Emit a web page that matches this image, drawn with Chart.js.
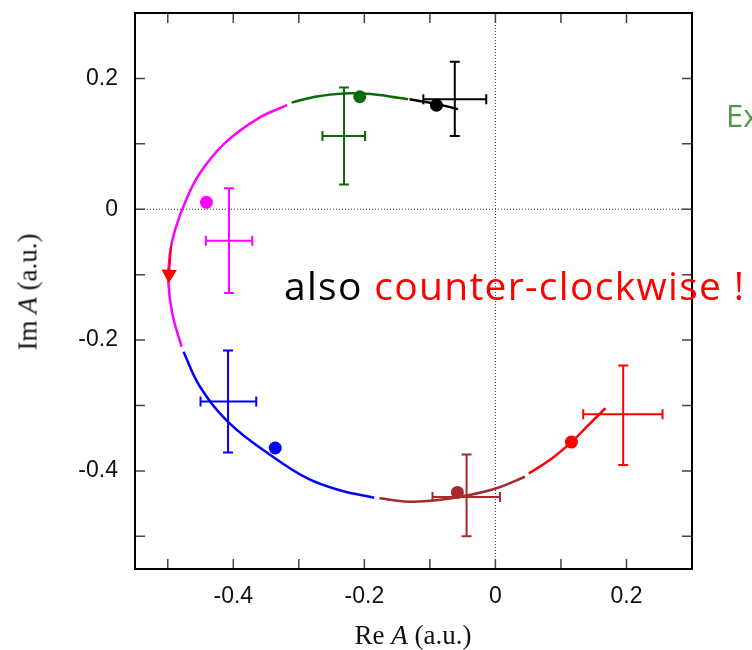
<!DOCTYPE html>
<html>
<head>
<meta charset="utf-8">
<script src="https://cdn.jsdelivr.net/npm/chart.js@4.4.0/dist/chart.umd.min.js"></script>
<style>
    html, body { margin: 0; padding: 0; background: #fff; }
    #wrap { position: relative; width: 752px; height: 650px; overflow: hidden; }
    #chart { position: absolute; left: 0; top: 0; }
    .axt { position: absolute; font-family: 'Liberation Serif', 'DejaVu Serif', serif; font-size: 27px; line-height: 1; white-space: nowrap; color: #111; }
    .note { position: absolute; font-family: 'Open Sans', Lato, sans-serif; line-height: 1; white-space: nowrap; }
</style>
</head>
<body>
<div id="wrap">
    <canvas id="chart" width="752" height="650"></canvas>
    <div class="axt" id="xTitle" style="left:413px; top:635px; transform:translate(-50%,-50%);">Re <i>A</i> (a.u.)</div>
    <div class="axt" id="yTitle" style="left:28px; top:292px; transform:translate(-50%,-50%) rotate(-90deg);">Im <i>A</i> (a.u.)</div>
    <div class="note" style="left:284px; top:265px; font-size:39px; letter-spacing:1.3px;">also <span style="color:#ff0000">counter-clockwise !</span></div>
    <div class="note" style="left:726px; top:100px; font-size:31px; color:#4e9a47;">Ex</div>
</div>
<script>
    // axes
    const axisMin = -0.55, axisMax = 0.3;
    const tickValues = [-0.4, -0.2, 0, 0.2];
    const tickLabels = ['-0.4', '-0.2', '0', '0.2'];
    const tickMarks = [-0.5, -0.4, -0.3, -0.2, -0.1, 0, 0.1, 0.2];

    // fitted curve, one piece per colour
    const redCurveX = [0.168, 0.140, 0.116, 0.085, 0.051];
    const redCurveY = [-0.304, -0.332, -0.356, -0.382, -0.404];
    const brownCurveX = [0.045, 0.000, -0.040, -0.090, -0.133, -0.177];
    const brownCurveY = [-0.409, -0.427, -0.437, -0.445, -0.447, -0.442];
    const blueCurveX = [-0.185, -0.236, -0.286, -0.343, -0.406, -0.451, -0.476];
    const blueCurveY = [-0.441, -0.430, -0.412, -0.376, -0.327, -0.271, -0.218];
    const magentaCurveX = [-0.479, -0.493, -0.499, -0.497, -0.489, -0.473, -0.451, -0.413, -0.362, -0.318];
    const magentaCurveY = [-0.210, -0.160, -0.113, -0.070, -0.032, 0.012, 0.055, 0.101, 0.139, 0.159];
    const greenCurveX = [-0.311, -0.275, -0.232, -0.190, -0.146, -0.133];
    const greenCurveY = [0.163, 0.172, 0.177, 0.176, 0.170, 0.168];
    const blackCurveX = [-0.131, -0.090, -0.057];
    const blackCurveY = [0.168, 0.161, 0.153];

    // fit points
    const dotX = [-0.441, -0.207, -0.090, -0.336, -0.058, 0.116];
    const dotY = [0.0105, 0.172, 0.159, -0.365, -0.433, -0.356];

    // measured points with errors
    const errX = [-0.4065, -0.231, -0.062, -0.408, -0.044, 0.195];
    const errY = [-0.048, 0.112, 0.168, -0.294, -0.440, -0.3135];
    const errXLo = [-0.442, -0.264, -0.110, -0.450, -0.096, 0.134];
    const errXHi = [-0.371, -0.199, -0.014, -0.365, 0.007, 0.255];
    const errYLo = [-0.128, 0.038, 0.112, -0.372, -0.500, -0.391];
    const errYHi = [0.032, 0.186, 0.2255, -0.216, -0.375, -0.239];

    const colors = ['#ff00ff', '#0a6b0a', '#000000', '#0000ff', '#a52a2a', '#ff0000'];

    // direction arrow
    const arrowX = [-0.495, -0.498];
    const arrowY = [-0.055, -0.0995];

    const zip = (xs, ys) => xs.map((x, i) => ({ x: x, y: ys[i] }));

    const curve = (xs, ys, color) => ({
        data: zip(xs, ys),
        showLine: true,
        borderColor: color,
        borderWidth: 2.5,
        tension: 0.4,
        pointRadius: 0,
        order: 2
    });

    const framePlugin = {
        id: 'frame',
        afterDatasetsDraw(chart) {
            const ctx = chart.ctx;
            const a = chart.chartArea;
            const x = chart.scales.x, y = chart.scales.y;
            ctx.save();
            // error bars
            ctx.lineWidth = 2;
            const cap = 5;
            errX.forEach((v, i) => {
                const cx = x.getPixelForValue(v), cy = y.getPixelForValue(errY[i]);
                const x0 = x.getPixelForValue(errXLo[i]), x1 = x.getPixelForValue(errXHi[i]);
                const y0 = y.getPixelForValue(errYLo[i]), y1 = y.getPixelForValue(errYHi[i]);
                ctx.strokeStyle = colors[i];
                ctx.beginPath();
                ctx.moveTo(x0, cy); ctx.lineTo(x1, cy);
                ctx.moveTo(x0, cy - cap); ctx.lineTo(x0, cy + cap);
                ctx.moveTo(x1, cy - cap); ctx.lineTo(x1, cy + cap);
                ctx.moveTo(cx, y0); ctx.lineTo(cx, y1);
                ctx.moveTo(cx - cap, y0); ctx.lineTo(cx + cap, y0);
                ctx.moveTo(cx - cap, y1); ctx.lineTo(cx + cap, y1);
                ctx.stroke();
            });
            // inward tick marks on all four sides
            ctx.strokeStyle = '#444';
            ctx.lineWidth = 1.5;
            ctx.beginPath();
            tickMarks.forEach(v => {
                const px = x.getPixelForValue(v);
                ctx.moveTo(px, a.top); ctx.lineTo(px, a.top + 10);
                ctx.moveTo(px, a.bottom); ctx.lineTo(px, a.bottom - 10);
                const py = y.getPixelForValue(v);
                ctx.moveTo(a.left, py); ctx.lineTo(a.left + 10, py);
                ctx.moveTo(a.right, py); ctx.lineTo(a.right - 10, py);
            });
            ctx.stroke();
            ctx.strokeStyle = '#000';
            ctx.lineWidth = 2;
            ctx.strokeRect(a.left, a.top, a.width, a.height);
            ctx.restore();
        }
    };

    const tickFont = { family: "'Liberation Sans', Arial, sans-serif", size: 23 };

    new Chart(document.getElementById('chart'), {
        type: 'scatter',
        data: {
            datasets: [
                {
                    data: zip(dotX, dotY),
                    pointRadius: 6.5,
                    pointBackgroundColor: colors,
                    pointBorderColor: colors,
                    pointBorderWidth: 0,
                    order: 0
                },
                {
                    data: zip(arrowX, arrowY),
                    showLine: true,
                    borderColor: '#ff0000',
                    borderWidth: 2,
                    pointRadius: [0, 9],
                    pointStyle: 'triangle',
                    rotation: 182,
                    pointBackgroundColor: '#ff0000',
                    pointBorderWidth: 0,
                    order: 1
                },
                curve(redCurveX, redCurveY, colors[5]),
                curve(brownCurveX, brownCurveY, colors[4]),
                curve(blueCurveX, blueCurveY, colors[3]),
                curve(magentaCurveX, magentaCurveY, colors[0]),
                curve(greenCurveX, greenCurveY, colors[1]),
                curve(blackCurveX, blackCurveY, colors[2]),
                {
                    data: zip([0, 0], [axisMin, axisMax]),
                    showLine: true,
                    borderColor: '#333',
                    borderWidth: 1,
                    borderDash: [1, 2],
                    pointRadius: 0,
                    order: 3
                },
                {
                    data: zip([axisMin, axisMax], [0, 0]),
                    showLine: true,
                    borderColor: '#333',
                    borderWidth: 1,
                    borderDash: [1, 2],
                    pointRadius: 0,
                    order: 3
                }
            ]
        },
        options: {
            responsive: false,
            animation: false,
            layout: { padding: { top: 13, right: 60, left: 0, bottom: 0 } },
            plugins: {
                legend: { display: false },
                tooltip: { enabled: false }
            },
            scales: {
                x: {
                    type: 'linear',
                    min: axisMin,
                    max: axisMax,
                    grid: { display: false, drawTicks: false },
                    border: { display: false },
                    afterBuildTicks: s => { s.ticks = tickValues.map(v => ({ value: v })); },
                    afterFit: s => { s.height = 81; s.paddingLeft = 0; s.paddingRight = 0; },
                    ticks: {
                        padding: 14,
                        autoSkip: false,
                        maxRotation: 0,
                        color: '#111',
                        font: tickFont,
                        callback: (v, i) => tickLabels[i]
                    }
                },
                y: {
                    type: 'linear',
                    min: axisMin,
                    max: axisMax,
                    grid: { display: false, drawTicks: false },
                    border: { display: false },
                    afterBuildTicks: s => { s.ticks = tickValues.map(v => ({ value: v })); },
                    afterFit: s => { s.width = 135; s.paddingTop = 0; s.paddingBottom = 0; },
                    ticks: {
                        padding: 17,
                        autoSkip: false,
                        color: '#111',
                        font: tickFont,
                        callback: (v, i) => tickLabels[i]
                    }
                }
            }
        },
        plugins: [framePlugin]
    });
</script>
</body>
</html>
